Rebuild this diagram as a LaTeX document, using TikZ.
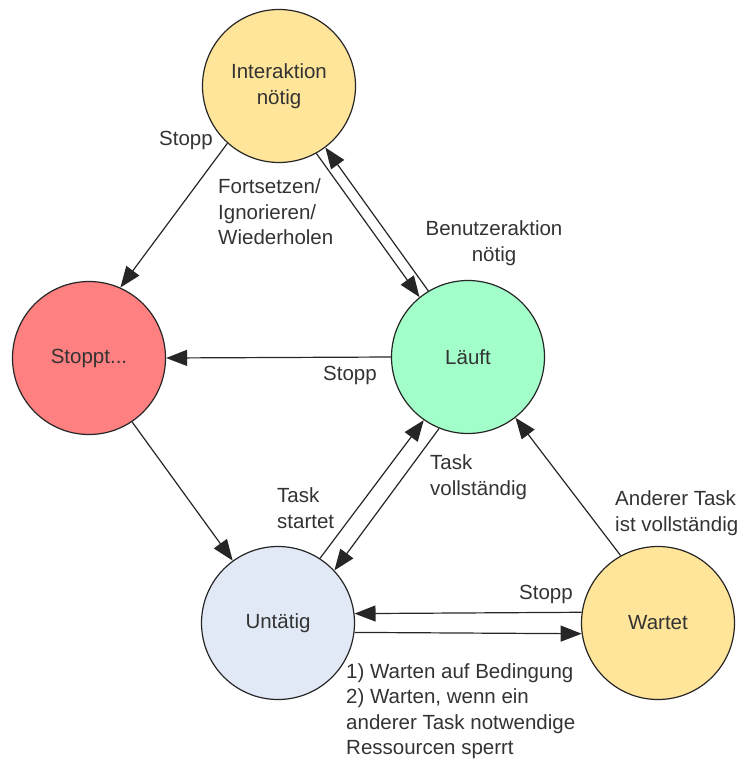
\documentclass[tikz,border=0pt]{standalone}
\usepackage{fontspec}
\setmainfont{Liberation Sans}
\usetikzlibrary{arrows.meta}
\definecolor{ink}{HTML}{333333}
\definecolor{yelfill}{HTML}{FFE599}
\definecolor{redfill}{HTML}{FF8080}
\definecolor{greenfill}{HTML}{A2FFC9}
\definecolor{bluefill}{HTML}{E1E9F7}
\begin{document}
\begin{tikzpicture}[x=1pt, y=-1pt,
  every node/.style={font=\fontsize{20.5}{25.5}\selectfont, text=ink},
  state/.style={circle, draw=black!85, line width=1.2pt, minimum size=153pt, inner sep=0pt, align=center},
  lbl/.style={inner sep=0pt, align=left, anchor=west},
  clbl/.style={inner sep=0pt, align=center},
  arr/.style={draw=black!85, line width=1.2pt, -{Triangle[length=21pt, width=16pt]}}]
  \useasboundingbox (0,0) rectangle (745,760);

  % states
  \node[state, fill=yelfill]   (I) at (279,86)  {Interaktion\\nötig};
  \node[state, fill=redfill]   (S) at (89,358)  {Stoppt...};
  \node[state, fill=greenfill] (L) at (468,357) {Läuft};
  \node[state, fill=bluefill]  (U) at (278,623) {Untätig};
  \node[state, fill=yelfill]   (W) at (658,623) {Wartet};

  % transitions
  \draw[arr] (I.-132) -- (S.66);
  \draw[arr] (I.-61) -- (L.129);
  \draw[arr] (L.121) -- (I.-53);
  \draw[arr] (L.180) -- (S.0);
  \draw[arr] (S.-56.5) -- (U.126);
  \draw[arr] (U.57.5) -- (L.-125);
  \draw[arr] (L.-112) -- (U.43);
  \draw[arr] (W.119) -- (L.-52.4);
  \draw[arr] (W.172.5) -- (U.7.5);
  \draw[arr] (U.-7.5) -- (W.-172.5);

  % transition labels
  \node[clbl] (t1) at (186,140) {Stopp};
  \node[lbl]  (t2) at (218,212) {Fortsetzen/\\Ignorieren/\\Wiederholen};
  \node[clbl] (t3) at (494,243) {Benutzeraktion\\nötig};
  \node[clbl] (t4) at (350,375) {Stopp};
  \node[lbl]  (t5) at (277,508) {Task\\startet};
  \node[lbl]  (t6) at (430,477) {Task\\vollständig};
  \node[lbl]  (t7) at (615,513) {Anderer Task\\ist vollständig};
  \node[clbl] (t8) at (546,594) {Stopp};
  \node[lbl]  (t9) at (346,711) {1) Warten auf Bedingung\\2) Warten, wenn ein\\anderer Task notwendige\\Ressourcen sperrt};
\end{tikzpicture}
\end{document}
